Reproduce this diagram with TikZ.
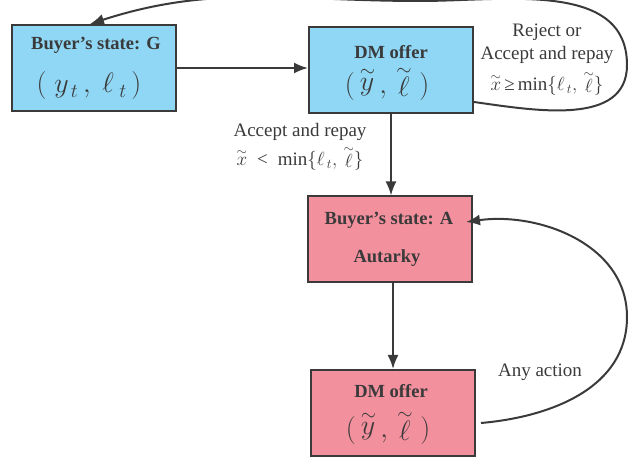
\RequirePackage{fix-cm}
\documentclass[tikz,border=0pt]{standalone}
\usepackage{fontspec}
\setmainfont{Liberation Serif}
\usetikzlibrary{arrows.meta,calc}
\definecolor{boxblue}{HTML}{8FD7F5}
\definecolor{boxpink}{HTML}{F3909E}
\definecolor{edge}{HTML}{3A3A3A}
\newcommand{\tld}[1]{\stackrel{\sim}{#1}}
\begin{document}
\begin{tikzpicture}[x=1pt,y=1pt,
  statebox/.style={draw=edge,line width=2pt,minimum width=164pt,minimum height=86pt,inner sep=0pt},
  ttl/.style={font=\fontsize{18.5}{20}\selectfont\bfseries,text=edge,inner sep=0pt},
  mth/.style={font=\fontsize{28}{30}\selectfont,text=edge,inner sep=0pt},
  lbl/.style={font=\fontsize{19}{21}\selectfont,text=edge,inner sep=0pt,align=center},
  conn/.style={draw=edge,line width=2pt,-{Latex[length=14pt,width=11pt]}}]
\useasboundingbox (0,0) rectangle (630,460);
% boxes
\node[statebox,fill=boxblue] (G) at (94,392) {};
\node[statebox,fill=boxblue] (D1) at (391,390) {};
\node[statebox,fill=boxpink] (A) at (390,220.5) {};
\node[statebox,fill=boxpink] (D2) at (393,47) {};
% box texts
\node[ttl] (Gt) at (96,415) {Buyer’s state: G};
\node[mth] (Gm) at (89,374) {$(\;y_{\,t}\,,\ \ell_{\;t}\,)$};
\node[ttl] (D1t) at (391,408) {DM offer};
\node[mth,anchor=base] (D1m) at (387,366) {$(\,\tld{y}\,,\,\tld{\ell}\;)$};
\node[ttl] (At) at (389,240) {Buyer’s state: A};
\node[ttl] (Aa) at (387,202) {Autarky};
\node[mth,anchor=base] (D2m) at (388,22) {$(\,\tld{y}\,,\,\tld{\ell}\;)$};
\node[ttl] (D2t) at (391,69) {DM offer};
% labels
\node[lbl] (L1) at (547,428) {Reject or};
\node[lbl] (L2) at (547,405) {Accept and repay};
\node[lbl,anchor=base] (L3) at (547,369) {$\tld{x}$\,≥\,min$\{\ell_{\,t},\,\tld{\ell}\}$};
\node[lbl] (L4) at (300,328) {Accept and repay};
\node[lbl,anchor=base] (L5) at (300,294) {$\tld{x}$\; <\; min$\{\ell_{\,t},\,\tld{\ell}\}$};
\node[lbl] (L6) at (540,88) {Any action};
% connectors
\draw[conn] (G.east) -- (D1.west |- G.east);
\draw[conn] (D1.south) -- (D1.south |- A.north);
\draw[conn] (D2.north |- A.south) -- (D2.north);
\draw[conn] ($(D1.east)+(0,-32)$) to[out=-8,in=-90] (627,395) to[out=90,in=0] (420,459) to[out=180,in=18] ($(G.north)+(-4,0)$);
\draw[conn] ($(D2.east)+(5,-10)$) to[out=5,in=-90] (627,143) to[out=90,in=8] ($(A.east)+(-7,17.5)$);
\end{tikzpicture}
\end{document}
